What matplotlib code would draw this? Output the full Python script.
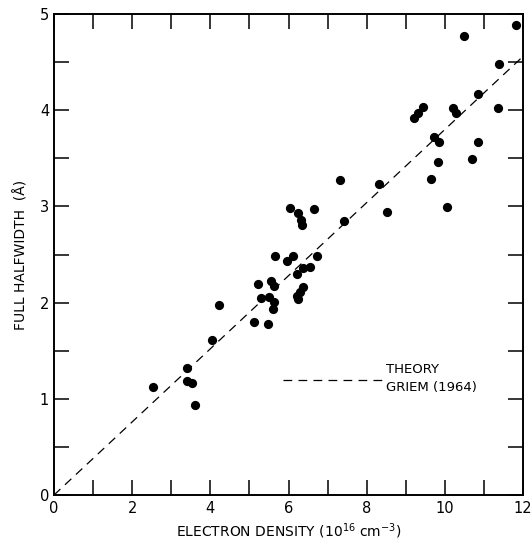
import matplotlib
matplotlib.use("Agg")
import matplotlib.pyplot as plt

density = [2.53, 3.39, 3.39, 3.53, 3.61, 4.05, 4.22, 5.12, 5.48, 5.21,
           5.29, 5.51, 5.54, 5.63, 5.64, 5.61, 5.65, 5.97, 6.12, 6.21,
           6.38, 6.55, 6.74, 6.36, 6.29, 6.21, 6.25, 6.04, 6.25, 6.33,
           6.35, 6.65, 7.31, 7.42, 8.31, 8.53, 10.06, 9.64, 9.83, 10.70,
           9.73, 9.85, 10.86, 9.22, 9.32, 9.43, 10.20, 10.28, 10.85, 11.36,
           11.39, 10.49, 11.83]
halfwidth = [1.12, 1.32, 1.19, 1.16, 0.94, 1.61, 1.98, 1.80, 1.78, 2.19,
             2.05, 2.06, 2.22, 2.17, 2.01, 1.93, 2.48, 2.43, 2.48, 2.30,
             2.36, 2.37, 2.48, 2.16, 2.11, 2.07, 2.04, 2.98, 2.93, 2.86,
             2.81, 2.97, 3.27, 2.85, 3.23, 2.94, 2.99, 3.29, 3.46, 3.49,
             3.72, 3.67, 3.67, 3.92, 3.97, 4.03, 4.02, 3.97, 4.17, 4.02,
             4.48, 4.77, 4.89]
theory_x = [0, 12]
theory_y = [0, 4.56]
legend_x = [5.85, 8.4]
legend_y = [1.2, 1.2]
xticks_major = list(range(0, 13, 2))
xticks_minor = list(range(1, 12, 2))
yticks_major = [0, 1, 2, 3, 4, 5]
yticks_minor = [0.5, 1.5, 2.5, 3.5, 4.5]

fig = plt.figure(figsize=(5.31, 5.40), dpi=100)
ax = fig.add_axes([0.1017, 0.0833, 0.8833, 0.8907])

ax.plot(theory_x, theory_y, color="black", lw=0.9, ls=(0, (7, 5)))
ax.scatter(density, halfwidth, s=44, color="black", zorder=3, linewidths=0)
ax.plot(legend_x, legend_y, color="black", lw=0.9, ls=(0, (7, 5)))
ax.text(8.5, 1.31, "THEORY", fontsize=9.5, va="center", ha="left")
ax.text(8.5, 1.12, "GRIEM (1964)", fontsize=9.5, va="center", ha="left")

ax.set_xlim(0, 12)
ax.set_ylim(0, 5)
ax.set_xticks(xticks_major)
ax.set_xticks(xticks_minor, minor=True)
ax.set_yticks(yticks_major)
ax.set_yticks(yticks_minor, minor=True)
ax.tick_params(which="both", direction="in", top=True, right=True,
               length=11, width=1.1, labelsize=10.5)
ax.tick_params(axis="x", pad=4)
for s in ax.spines.values():
    s.set_linewidth(1.4)

ax.set_xlabel("ELECTRON DENSITY (10$^{16}$ cm$^{-3}$)", fontsize=10, labelpad=4)
ax.set_ylabel("FULL HALFWIDTH  (Å)", fontsize=10, labelpad=8)

fig.savefig("out.png", dpi=100)
